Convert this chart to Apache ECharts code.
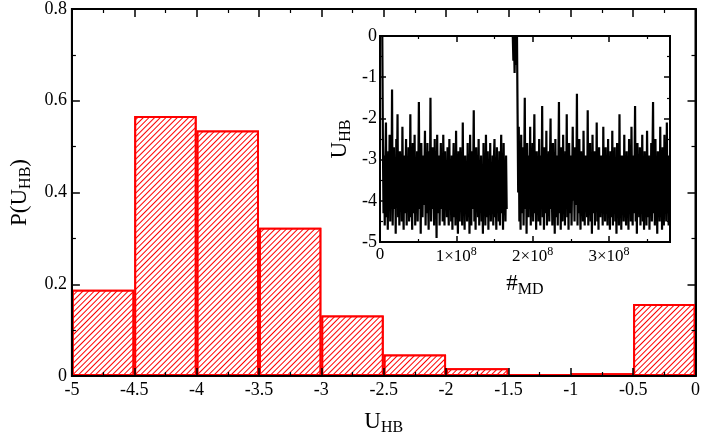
<!DOCTYPE html>
<html><head><meta charset="utf-8">
<script src="https://cdn.jsdelivr.net/npm/echarts@6/dist/echarts.min.js"></script>
<style>html,body{margin:0;padding:0;background:#fff}#c{width:703px;height:441px}</style>
</head><body><div id="c"></div>
<script>
const binStarts = [-5,-4.5,-4,-3.5,-3,-2.5,-2,-1.5,-1,-0.5];
const probs = [0.188,0.567,0.535,0.323,0.132,0.047,0.017,0.004,0.006,0.157];
const seg1Start = 0.03e8, seg1End = 1.66e8;
const seg1 = [0,-2.6,-4.3,-2.9,-4.6,-3.1,-2.1,-4.4,-3.3,-4.7,-2.8,-3.9,-2.4,-4.5,-3.2,-4.1,-1.3,-4.6,-3.5,-2.7,-4.2,-3.0,-4.8,-2.5,-3.7,-1.9,-4.4,-3.4,-4.6,-2.8,-4.0,-3.1,-4.5,-2.2,-3.8,-4.7,-2.9,-4.3,-3.6,-2.5,-4.6,-3.2,-4.1,-2.7,-4.5,-3.9,-1.9,-4.4,-3.0,-4.7,-2.6,-3.7,-4.3,-2.4,-4.6,-3.3,-4.0,-2.8,-4.5,-3.5,-1.6,-4.2,-3.1,-4.8,-2.6,-3.9,-4.4,-2.9,-4.1,-3.4,-2.3,-4.6,-3.0,-4.3,-2.6,-3.8,-4.7,-2.8,-4.0,-1.5,-4.5,-3.3,-4.2,-2.7,-3.6,-4.6,-2.5,-4.1,-3.2,-4.9,-2.4,-3.9,-4.3,-2.9,-4.6,-3.4,-2.6,-4.2,-3.0,-4.5,-2.4,-3.7,-4.6,-2.8,-4.1,-3.3,-4.4,-2.7,-3.9,-4.6,-2.5,-4.2,-3.1,-4.5,
 -2.9,-4.7,-3.4,-2.6,-4.4,-3.0,-4.6,-2.3,-4.1,-3.6,-4.8,-2.8,-3.9,-4.5,-2.7,-4.2,-3.2,-4.6,-2.1,-4.3,-3.5,-4.7,-2.9,-4.0,-3.3,-4.5,-2.6,-4.4,-3.1,-4.8,-2.4,-3.8,-4.6,-2.8,-4.2,-3.4,-1.8,-4.5,-3.0,-4.7,-2.7,-4.1,-3.6,-4.4,-2.5,-4.6,-3.2,-4.0,-2.9,-4.5,-3.7,-4.8,-2.6,-4.3,-3.1,-4.6,-2.4,-3.9,-4.4,-2.8,-4.7,-3.3,-4.1,-2.6,-4.5,-3.5,-4.2,-2.9,-4.6,-3.0,-2.5,-4.4,-3.8,-4.7,-2.7,-4.1,-3.2,-4.5,-2.8,-4.6,-3.4,-2.4,-4.3,-3.0,-4.7,-2.6,-4.0,-3.6,-4.5,-2.9,-4.2];
const seg2Start = 1.74e8, seg2End = 3.79e8;
const seg2 = [0,-0.6,0,-0.9,0,-0.4,-0.7,0,-1.9,-3.8,-2.2,-4.5,-3.0,-4.7,-2.4,-3.9,-4.3,-2.7,-4.6,-3.3,-1.5,-4.2,-3.0,-4.8,-2.6,-3.7,-4.4,-2.9,-4.1,-2.2,-4.6,-3.4,-4.0,-2.6,-4.5,-3.2,-1.9,-4.3,-3.6,-4.7,-2.8,-4.0,-3.1,-4.5,-2.5,-3.8,-4.6,-2.9,-4.2,-1.7,-4.4,-3.3,-4.7,-2.7,-3.9,-4.3,-2.3,-4.6,-3.5,-4.0,-2.8,-4.5,-3.1,-2.0,-4.2,-3.7,-4.6,-2.6,-4.1,-3.3,-4.8,-2.5,-3.8,-4.4,-2.9,-4.6,-3.2,-1.6,-4.3,-3.0,-4.7,-2.7,-3.9,-4.5,-2.4,-4.1,-3.4,-4.6,-2.8,-4.2,-1.9,-4.4,-3.1,-4.7,-2.6,-3.6,-4.3,-2.9,-4.6,-3.5,-2.2,-4.0,-3.2,-4.5,-2.7,-4.1,-3.8,-1.4,-4.6,-3.0,-4.3,-2.5,-3.9,-4.7,-2.8,-4.2,-3.3,-4.5,-2.3,-3.7,-4.6,-2.9,-4.1,-3.1,-4.4,-1.8,-4.6,-3.4,-4.0,-2.6,-4.5,-3.2,-4.8,-2.4,-3.8,-4.3,-2.8,-4.6,-3.0,-4.2,-2.1,-4.5,-3.6,-4.7,-2.7,-3.9,-4.4,-2.9,-4.1,-3.3,-4.6,-2.2,-4.0,-3.5,-4.5,-2.7,-4.3,-3.1,
 -4.6,-2.5,-4.2,-3.4,-4.7,-2.8,-3.9,-4.4,-2.3,-4.6,-3.1,-4.0,-2.7,-4.5,-3.6,-4.8,-2.6,-4.2,-3.2,-4.6,-1.9,-4.3,-3.5,-4.7,-2.9,-4.1,-3.0,-4.5,-2.4,-4.4,-3.7,-4.6,-2.8,-4.0,-3.3,-4.7,-2.5,-4.2,-3.1,-4.5,-2.2,-3.9,-4.6,-2.9,-4.3,-3.4,-1.7,-4.5,-3.0,-4.8,-2.6,-4.1,-3.6,-4.4,-2.7,-4.6,-3.2,-4.0,-2.4,-4.5,-3.5,-4.7,-2.8,-4.2,-3.1,-4.6,-2.3,-3.8,-4.4,-2.9,-4.7,-3.3,-4.1,-2.6,-4.5,-3.0,-1.6,-4.3,-3.7,-4.6,-2.5,-4.2,-3.2,-4.8,-2.8,-4.0,-3.4,-4.5,-2.2,-4.4,-3.1,-4.7,-2.7,-3.9,-4.6,-2.4,-4.2,-3.5,-4.5,-2.1,-4.3,-3.0,-4.6,-2.9];
function spread(vals, a, b){ const n=vals.length; return vals.map((v,i)=>[a+(b-a)*i/(n-1), v]); }
const F = 'Liberation Serif';
const sub = {a:{fontFamily:F,fontSize:23,color:'#000'}, s:{fontFamily:F,fontSize:16,color:'#000',padding:[12,0,0,0]}};
const sup = {a:{fontFamily:F,fontSize:17,color:'#000'}, p:{fontFamily:F,fontSize:12,color:'#000',padding:[0,0,10,0]}};
const ax = {onZero:false,lineStyle:{color:'#000',width:2}};
const tick = (l)=>({inside:true,length:l,lineStyle:{color:'#000',width:1.5}});
const mtick = (l)=>({show:true,splitNumber:2,length:l,lineStyle:{color:'#000',width:1.2}});
function mk(base, extra){ return Object.assign({type:'value',axisLine:ax,splitLine:{show:false},z:5}, base, extra); }
const mx = {gridIndex:0,min:-5,max:0,interval:0.5,axisTick:tick(8),minorTick:mtick(4)};
const ix = {gridIndex:1,min:0,max:3.8e8,interval:1e8,axisTick:tick(6),minorTick:mtick(3)};
const my = {gridIndex:0,min:0,max:0.8,interval:0.2,axisTick:tick(8),minorTick:mtick(4)};
const iy = {gridIndex:1,min:-5,max:0,interval:1,axisTick:tick(6),minorTick:mtick(3)};
const chart = echarts.init(document.getElementById('c'));
chart.setOption({
  animation:false, backgroundColor:'#fff',
  grid:[{left:70,right:6,top:5,bottom:59,show:true,borderColor:'#000',borderWidth:2},
        {left:380,top:36,width:290,height:206,show:true,borderColor:'#000',borderWidth:2,backgroundColor:'#fff'}],
  xAxis:[
    mk(mx,{axisLabel:{fontFamily:F,fontSize:18,color:'#000',margin:5,formatter:v=>String(v)},
     name:'{a|U}{s|HB}',nameLocation:'middle',nameGap:32,nameTextStyle:{rich:sub}}),
    mk(ix,{axisLabel:{fontFamily:F,fontSize:17,color:'#000',margin:4,showMaxLabel:false,
       formatter:v=>v===0?'{a|0}':'{a|'+Math.round(v/1e8)+'×10}{p|8}',rich:sup},
     name:'{a|#}{s|MD}',nameLocation:'middle',nameGap:28,nameTextStyle:{rich:sub}}),
    mk(mx,{position:'top',axisLabel:{show:false}}),
    mk(ix,{position:'top',axisLabel:{show:false}})
  ],
  yAxis:[
    mk(my,{axisLabel:{fontFamily:F,fontSize:18,color:'#000',margin:5,formatter:v=>String(Math.round(v*10)/10)},
     name:'{a|P(U}{s|HB}{a|)}',nameLocation:'middle',nameGap:38,nameRotate:90,nameTextStyle:{rich:sub}}),
    mk(iy,{axisLabel:{fontFamily:F,fontSize:18,color:'#000',margin:3},
     name:'{a|U}{s|HB}',nameLocation:'middle',nameGap:26,nameRotate:90,nameTextStyle:{rich:sub}}),
    mk(my,{position:'right',axisLabel:{show:false}}),
    mk(iy,{position:'right',axisLabel:{show:false}})
  ],
  series:[
    {type:'bar',xAxisIndex:0,yAxisIndex:0,barWidth:'100%',barGap:'-100%',
     data:binStarts.map((s,i)=>[s+0.25,probs[i]]),
     itemStyle:{color:'#fff',borderColor:'#ff0000',borderWidth:2,
       decal:{symbol:'rect',color:'#ff0000',backgroundColor:'#fff',symbolSize:1,dashArrayX:[[1,0]],dashArrayY:[1,3],rotation:-Math.PI/4}}},
    {type:'line',xAxisIndex:1,yAxisIndex:1,showSymbol:false,data:spread(seg1,seg1Start,seg1End),lineStyle:{color:'#000',width:2.2}},
    {type:'line',xAxisIndex:1,yAxisIndex:1,showSymbol:false,data:spread(seg2,seg2Start,seg2End),lineStyle:{color:'#000',width:2.2}}
  ]
});
</script></body></html>
